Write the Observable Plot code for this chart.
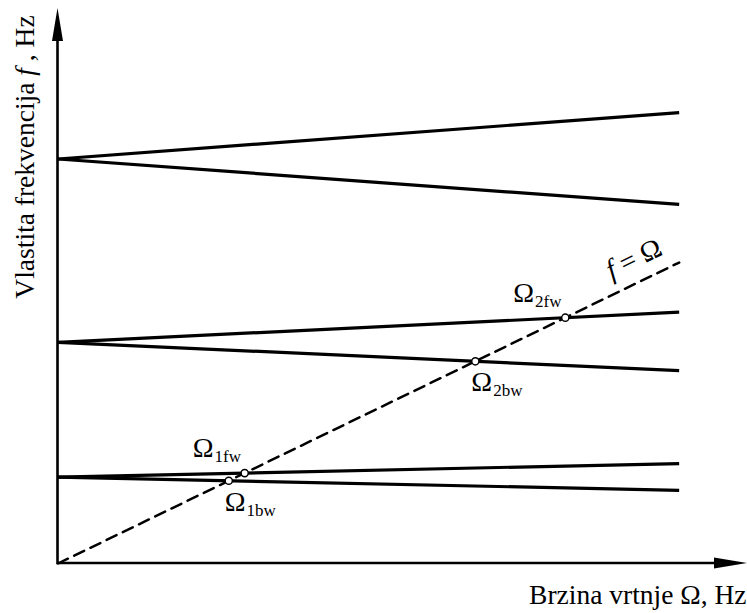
<!DOCTYPE html>
<html>
<head>
<meta charset="utf-8">
<script src="https://cdn.jsdelivr.net/npm/d3@7"></script>
<script src="https://cdn.jsdelivr.net/npm/@observablehq/plot@0.6"></script>
<style>
  body { margin: 0; background: #fff; }
  #chart svg { display: block; font-family: "Liberation Serif", "Times New Roman", serif; }
  #chart svg text { font-family: "Liberation Serif", "Times New Roman", serif; }
</style>
</head>
<body>
<div id="chart"></div>
<script>
// Campbell diagram: natural frequencies split into forward / backward whirl with rotor speed
const speedEnd = 100;                       // rotor speed at the right end of the curves
const modes = ["1", "2", "3"];
const fStandstill = [28.7, 73.5, 134.4];    // natural frequency at zero speed
const fForward = [33.2, 83.5, 149.8];       // forward whirl at speedEnd
const fBackward = [24.3, 64.1, 119.3];      // backward whirl at speedEnd
const axisMax = { x: 111, y: 184.4 };

const W = 747, H = 613;
const margin = { top: 8, right: 0, bottom: 50, left: 57.5 };
const serif = "Liberation Serif";

// whirl curves
const curves = modes.flatMap((m, i) => [
  { mode: m, whirl: "fw", speed: 0, f: fStandstill[i] },
  { mode: m, whirl: "fw", speed: speedEnd, f: fForward[i] },
  { mode: m, whirl: "bw", speed: 0, f: fStandstill[i] },
  { mode: m, whirl: "bw", speed: speedEnd, f: fBackward[i] }
]);

// synchronous line f = Ω
const synchronous = [{ speed: 0, f: 0 }, { speed: speedEnd, f: speedEnd }];

// critical speeds: where a whirl curve meets f = Ω
const critical = [];
modes.forEach((m, i) => {
  [["fw", fForward[i]], ["bw", fBackward[i]]].forEach(([whirl, end]) => {
    const slope = (end - fStandstill[i]) / speedEnd;
    const s = fStandstill[i] / (1 - slope);
    if (s >= 0 && s <= speedEnd) critical.push({ mode: m, whirl, speed: s, f: s, label: "Ω_" + m + whirl });
  });
});

// slope of f = Ω on screen, for the rotated label
const kx = (W - margin.left - margin.right) / axisMax.x;
const ky = (H - margin.top - margin.bottom) / axisMax.y;
const diagAngle = -Math.atan(ky / kx) * 180 / Math.PI;

// axis lines with filled arrowheads
function axesWithArrows(index, scales) {
  const { x, y } = scales;
  const x0 = x(0), y0 = y(0), xt = x(axisMax.x), yt = y(axisMax.y);
  const len = 33, half = 5.5;
  const ns = "http://www.w3.org/2000/svg";
  const g = document.createElementNS(ns, "g");
  const line = document.createElementNS(ns, "path");
  line.setAttribute("d", `M${x0},${yt + len}V${y0}H${xt - len}`);
  line.setAttribute("fill", "none");
  line.setAttribute("stroke", "#000");
  line.setAttribute("stroke-width", 2.6);
  g.appendChild(line);
  const heads = document.createElementNS(ns, "path");
  heads.setAttribute("d",
    `M${x0},${yt}L${x0 - half},${yt + len}L${x0 + half},${yt + len}Z` +
    `M${xt},${y0}L${xt - len},${y0 - half}L${xt - len},${y0 + half}Z`);
  heads.setAttribute("fill", "#000");
  g.appendChild(heads);
  return g;
}

const label = { fontFamily: serif, fill: "#000" };

const chart = Plot.plot({
  width: W,
  height: H,
  marginTop: margin.top,
  marginRight: margin.right,
  marginBottom: margin.bottom,
  marginLeft: margin.left,
  style: { background: "#fff", color: "#000", overflow: "visible" },
  x: { domain: [0, axisMax.x], axis: null },
  y: { domain: [0, axisMax.y], axis: null },
  marks: [
    axesWithArrows,
    Plot.line(synchronous, {
      x: "speed", y: "f", stroke: "#000", strokeWidth: 2.5, strokeDasharray: "11,7"
    }),
    Plot.line(curves, {
      x: "speed", y: "f", z: d => d.mode + d.whirl, stroke: "#000", strokeWidth: 3.2, strokeLinecap: "butt"
    }),
    Plot.dot(critical, {
      x: "speed", y: "f", r: 3.6, fill: "#fff", stroke: "#000", strokeWidth: 1.5
    }),
    Plot.text(critical.filter(d => d.whirl === "fw"), {
      ...label, x: "speed", y: "f", text: "label", textAnchor: "start", lineAnchor: "bottom",
      dx: -52, dy: -16, fontSize: 28
    }),
    Plot.text(critical.filter(d => d.whirl === "bw"), {
      ...label, x: "speed", y: "f", text: "label", textAnchor: "start", lineAnchor: "bottom",
      dx: -4, dy: 30, fontSize: 28
    }),
    Plot.text([synchronous[1]], {
      ...label, x: "speed", y: "f", text: () => "f = Ω", textAnchor: "start", lineAnchor: "bottom",
      rotate: diagAngle, dx: -67.7, dy: 17, fontSize: 28
    }),
    Plot.text(["Vlastita frekvencija f , Hz"], {
      ...label, text: d => d, frameAnchor: "left", rotate: -90, textAnchor: "middle", lineAnchor: "bottom",
      dx: -24.5, dy: -129, fontSize: 27.5
    }),
    Plot.text(["Brzina vrtnje Ω, Hz"], {
      ...label, text: d => d, frameAnchor: "bottom-right", textAnchor: "end", lineAnchor: "bottom",
      dx: -1, dy: 40, fontSize: 27.5
    })
  ]
});

// typographic details: italic frequency symbol, subscripted critical-speed names
const NS = "http://www.w3.org/2000/svg";
chart.querySelectorAll("text").forEach(t => {
  const s = t.textContent;
  if (s.includes("_")) {
    const [main, sub] = s.split("_");
    t.textContent = "";
    const a = document.createElementNS(NS, "tspan");
    a.textContent = main;
    const b = document.createElementNS(NS, "tspan");
    b.textContent = sub;
    b.setAttribute("dy", "5");
    b.setAttribute("dx", "1");
    b.setAttribute("font-size", "17");
    t.append(a, b);
    return;
  }
  const m = s.match(/(^|\s)f(?=\s)/);
  if (m) {
    const at = m.index + m[1].length;
    t.textContent = "";
    const before = document.createElementNS(NS, "tspan");
    before.textContent = s.slice(0, at);
    const it = document.createElementNS(NS, "tspan");
    it.textContent = "f";
    it.setAttribute("font-style", "italic");
    const after = document.createElementNS(NS, "tspan");
    after.textContent = s.slice(at + 1);
    if (before.textContent) t.append(before);
    t.append(it, after);
  }
});

document.getElementById("chart").appendChild(chart);
</script>
</body>
</html>
